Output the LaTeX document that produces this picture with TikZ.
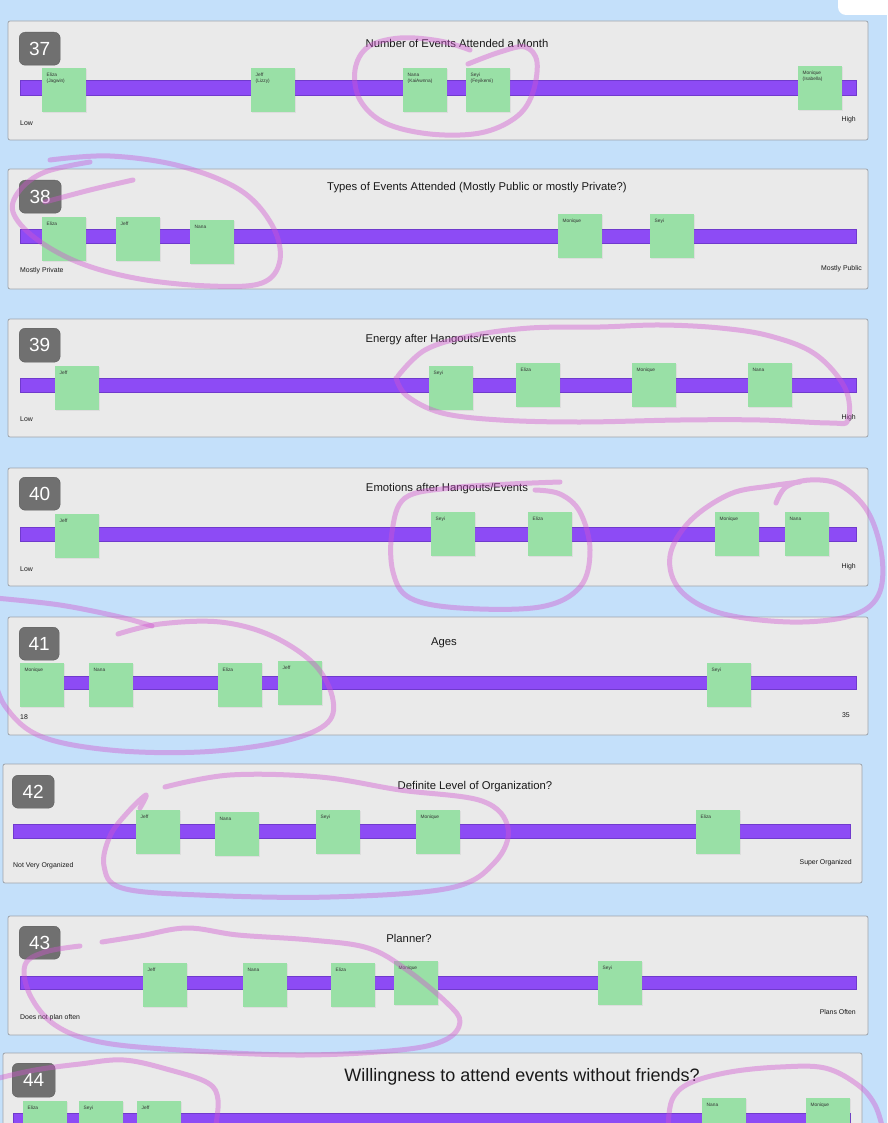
\documentclass[tikz,border=0pt]{standalone}
\usepackage{fontspec}
\setmainfont{Liberation Sans}
\usetikzlibrary{shadows}
\definecolor{bgblue}{RGB}{196,224,250}
\definecolor{panelgray}{RGB}{234,234,234}
\definecolor{panelborder}{RGB}{158,164,172}
\definecolor{badgegray}{RGB}{112,112,112}
\definecolor{barpurple}{RGB}{141,75,245}
\definecolor{barborder}{RGB}{112,58,205}
\definecolor{notegreen}{RGB}{153,224,166}
\definecolor{inkpink}{RGB}{208,86,208}
\tikzset{
  panel/.style={draw=panelborder, fill=panelgray, line width=0.8, rounded corners=2},
  badge/.style={fill=badgegray, draw=badgegray!85!black, line width=0.4, rounded corners=6,
    anchor=north west, inner sep=0, text=white, font=\fontsize{19}{21}\selectfont},
  bar/.style={fill=barpurple, draw=barborder, line width=0.6},
  note/.style={fill=notegreen, draw=none, inner sep=0, minimum width=44, minimum height=44,
    anchor=north west, drop shadow={opacity=.12, shadow xshift=0.6pt, shadow yshift=-1pt}},
  notetext/.style={anchor=north west, inner sep=0, align=left, text=black!80,
    font=\fontsize{4.8}{5.8}\selectfont},
  title/.style={inner sep=0, font=\fontsize{11.3}{13}\selectfont, text=black!90},
  bigtitle/.style={inner sep=0, font=\fontsize{18}{20}\selectfont, text=black!90},
  axis/.style={inner sep=0, font=\fontsize{6.9}{8}\selectfont, text=black!90},
  ink/.style={draw=inkpink, draw opacity=.42, line width=5, line cap=round, line join=round}
}
\newcommand\stickynote[3]{%
  \node[note] (#1) at (#2) {};
  \node[notetext] (#1t) at ([shift={(4.5pt,-5pt)}]#1.north west) {#3};}
\begin{document}
\begin{tikzpicture}[x=1pt,y=-1pt]
\useasboundingbox (0,0) rectangle (887,1123);
\clip (0,0) rectangle (887,1123);
\fill[bgblue] (0,0) rectangle (887,1123);
\fill[white, rounded corners=8] (838,-20) rectangle (905,15);

% ---------- 37
\draw[panel] (8,21) rectangle (868,140);
\node[badge, minimum width=41, minimum height=33] (b37) at (19,32) {37};
\node[title] (t37) at (457,43) {Number of Events Attended a Month};
\draw[bar] (20,80) rectangle (856,95);
\stickynote{n37a}{42,68}{Eliza\\(Jagwin)}
\stickynote{n37b}{251,68}{Jeff\\(Lizzy)}
\stickynote{n37c}{403,68}{Nana\\(KaiAwnna)}
\stickynote{n37d}{466,68}{Seyi\\(Feyikemi)}
\stickynote{n37e}{798,66}{Monique\\(Isabella)}
\node[axis, anchor=west] (l37) at (20,123) {Low};
\node[axis, anchor=east] (r37) at (856,120) {High};

% ---------- 38
\draw[panel] (8,169) rectangle (868,289);
\node[badge, minimum width=42, minimum height=33] (b38) at (19,180) {38};
\node[title] (t38) at (477,188) {Types of Events Attended (Mostly Public or mostly Private?)};
\draw[bar] (20,229) rectangle (856,243);
\stickynote{n38a}{42,217}{Eliza}
\stickynote{n38b}{116,217}{Jeff}
\stickynote{n38c}{190,220}{Nana}
\stickynote{n38d}{558,214}{Monique}
\stickynote{n38e}{650,214}{Seyi}
\node[axis, anchor=west] (l38) at (20,271) {Mostly Private};
\node[axis, anchor=east] (r38) at (862,269) {Mostly Public};

% ---------- 39
\draw[panel] (8,319) rectangle (868,437);
\node[badge, minimum width=41, minimum height=34] (b39) at (19,328) {39};
\node[title] (t39) at (441,340) {Energy after Hangouts/Events};
\draw[bar] (20,378) rectangle (856,392);
\stickynote{n39a}{55,366}{Jeff}
\stickynote{n39b}{429,366}{Seyi}
\stickynote{n39c}{516,363}{Eliza}
\stickynote{n39d}{632,363}{Monique}
\stickynote{n39e}{748,363}{Nana}
\node[axis, anchor=west] (l39) at (20,419) {Low};
\node[axis, anchor=east] (r39) at (856,418) {High};

% ---------- 40
\draw[panel] (8,468) rectangle (868,586);
\node[badge, minimum width=41, minimum height=33] (b40) at (19,477) {40};
\node[title] (t40) at (447,489) {Emotions after Hangouts/Events};
\draw[bar] (20,527) rectangle (856,541);
\stickynote{n40a}{55,514}{Jeff}
\stickynote{n40b}{431,512}{Seyi}
\stickynote{n40c}{528,512}{Eliza}
\stickynote{n40d}{715,512}{Monique}
\stickynote{n40e}{785,512}{Nana}
\node[axis, anchor=west] (l40) at (20,569) {Low};
\node[axis, anchor=east] (r40) at (856,567) {High};

% ---------- 41
\draw[panel] (8,617) rectangle (868,735);
\node[badge, minimum width=40, minimum height=33] (b41) at (19,627) {41};
\node[title] (t41) at (444,643) {Ages};
\draw[bar] (20,676) rectangle (856,689);
\stickynote{n41a}{20,663}{Monique}
\stickynote{n41b}{89,663}{Nana}
\stickynote{n41c}{218,663}{Eliza}
\stickynote{n41d}{278,661}{Jeff}
\stickynote{n41e}{707,663}{Seyi}
\node[axis, anchor=west] (l41) at (20,717) {18};
\node[axis, anchor=east] (r41) at (850,715) {35};

% ---------- 42
\draw[panel] (3,764) rectangle (862,883);
\node[badge, minimum width=42, minimum height=33] (b42) at (12,775) {42};
\node[title] (t42) at (475,787) {Definite Level of Organization?};
\draw[bar] (13,824) rectangle (850,838);
\stickynote{n42a}{136,810}{Jeff}
\stickynote{n42b}{215,812}{Nana}
\stickynote{n42c}{316,810}{Seyi}
\stickynote{n42d}{416,810}{Monique}
\stickynote{n42e}{696,810}{Eliza}
\node[axis, anchor=west] (l42) at (13,866) {Not Very Organized};
\node[axis, anchor=east] (r42) at (852,863) {Super Organized};

% ---------- 43
\draw[panel] (8,916) rectangle (868,1035);
\node[badge, minimum width=41, minimum height=33] (b43) at (19,926) {43};
\node[title] (t43) at (409,938) {Planner?};
\draw[bar] (20,976) rectangle (856,989);
\stickynote{n43a}{143,963}{Jeff}
\stickynote{n43b}{243,963}{Nana}
\stickynote{n43c}{331,963}{Eliza}
\stickynote{n43d}{394,961}{Monique}
\stickynote{n43e}{598,961}{Seyi}
\node[axis, anchor=west] (l43) at (20,1018) {Does not plan often};
\node[axis, anchor=east] (r43) at (856,1012) {Plans Often};

% ---------- 44
\draw[panel] (3,1053) rectangle (862,1150);
\node[badge, minimum width=43, minimum height=34] (b44) at (12,1063) {44};
\node[bigtitle] (t44) at (522,1077) {Willingness to attend events without friends?};
\draw[bar] (13,1113) rectangle (850,1140);
\stickynote{n44a}{23,1101}{Eliza}
\stickynote{n44b}{79,1101}{Seyi}
\stickynote{n44c}{137,1101}{Jeff}
\stickynote{n44d}{702,1098}{Nana}
\stickynote{n44e}{806,1098}{Monique}

% ---------- hand-drawn marks
\draw[ink] plot[smooth, tension=.6] coordinates {(468,64) (500,52) (525,47) (537,62) (532,95) (515,118) (480,133) (430,134) (385,123) (360,100) (355,70) (368,47) (400,38) (440,41) (470,50)};
\draw[ink] plot[smooth, tension=.6] coordinates {(45,202) (90,190) (133,180)};
\draw[ink] plot[smooth, tension=.6] coordinates {(50,160) (110,156) (180,166) (240,190) (272,225) (280,260) (262,283) (210,286) (140,279) (80,263) (35,238) (13,212) (20,190) (45,172) (90,162)};
\draw[ink] plot[smooth, tension=.6] coordinates {(398,376) (425,350) (470,336) (530,328) (600,327) (660,325) (720,328) (770,336) (815,354) (845,388) (848,420) (830,423) (760,420) (680,420) (580,422) (500,420) (442,413) (407,396) (396,378)};
\draw[ink] plot[smooth, tension=.6] coordinates {(560,482) (510,484) (450,488) (405,498) (392,532) (393,572) (410,598) (460,608) (540,607) (580,587) (590,550) (580,512) (560,494) (535,490)};
\draw[ink] plot[smooth, tension=.6] coordinates {(776,503) (786,487) (810,480) (840,485) (868,512) (882,557) (878,596) (850,616) (790,622) (720,613) (680,590) (670,556) (690,521) (730,494) (770,486) (800,482)};
\draw[ink] plot[smooth, tension=.6] coordinates {(-5,598) (60,605) (120,617) (152,626)};
\draw[ink] plot[smooth, tension=.6] coordinates {(118,634) (160,624) (220,622) (272,636) (315,665) (333,700) (325,725) (280,742) (200,752) (110,750) (40,736) (5,706) (-8,670)};
\draw[ink] plot[smooth, tension=.6] coordinates {(165,787) (230,775) (320,777) (400,790) (482,801) (508,828) (495,862) (450,888) (330,897) (200,895) (122,888) (104,866) (110,836) (128,812) (146,795) (140,808)};
\draw[ink] plot[smooth, tension=.6] coordinates {(102,942) (140,936) (187,928) (238,935) (311,940) (368,948) (407,970) (447,1003) (460,1022) (445,1040) (400,1050) (300,1055) (180,1050) (100,1042) (55,1025) (30,995) (25,965) (45,952) (80,946)};
\draw[ink] plot[smooth, tension=.6] coordinates {(-5,1079) (35,1070) (80,1064) (124,1060) (170,1070) (208,1083) (218,1100) (215,1130)};
\draw[ink] plot[smooth, tension=.6] coordinates {(668,1130) (672,1100) (690,1083) (730,1072) (780,1067) (825,1068) (858,1085) (875,1105) (883,1130)};
\end{tikzpicture}
\end{document}
